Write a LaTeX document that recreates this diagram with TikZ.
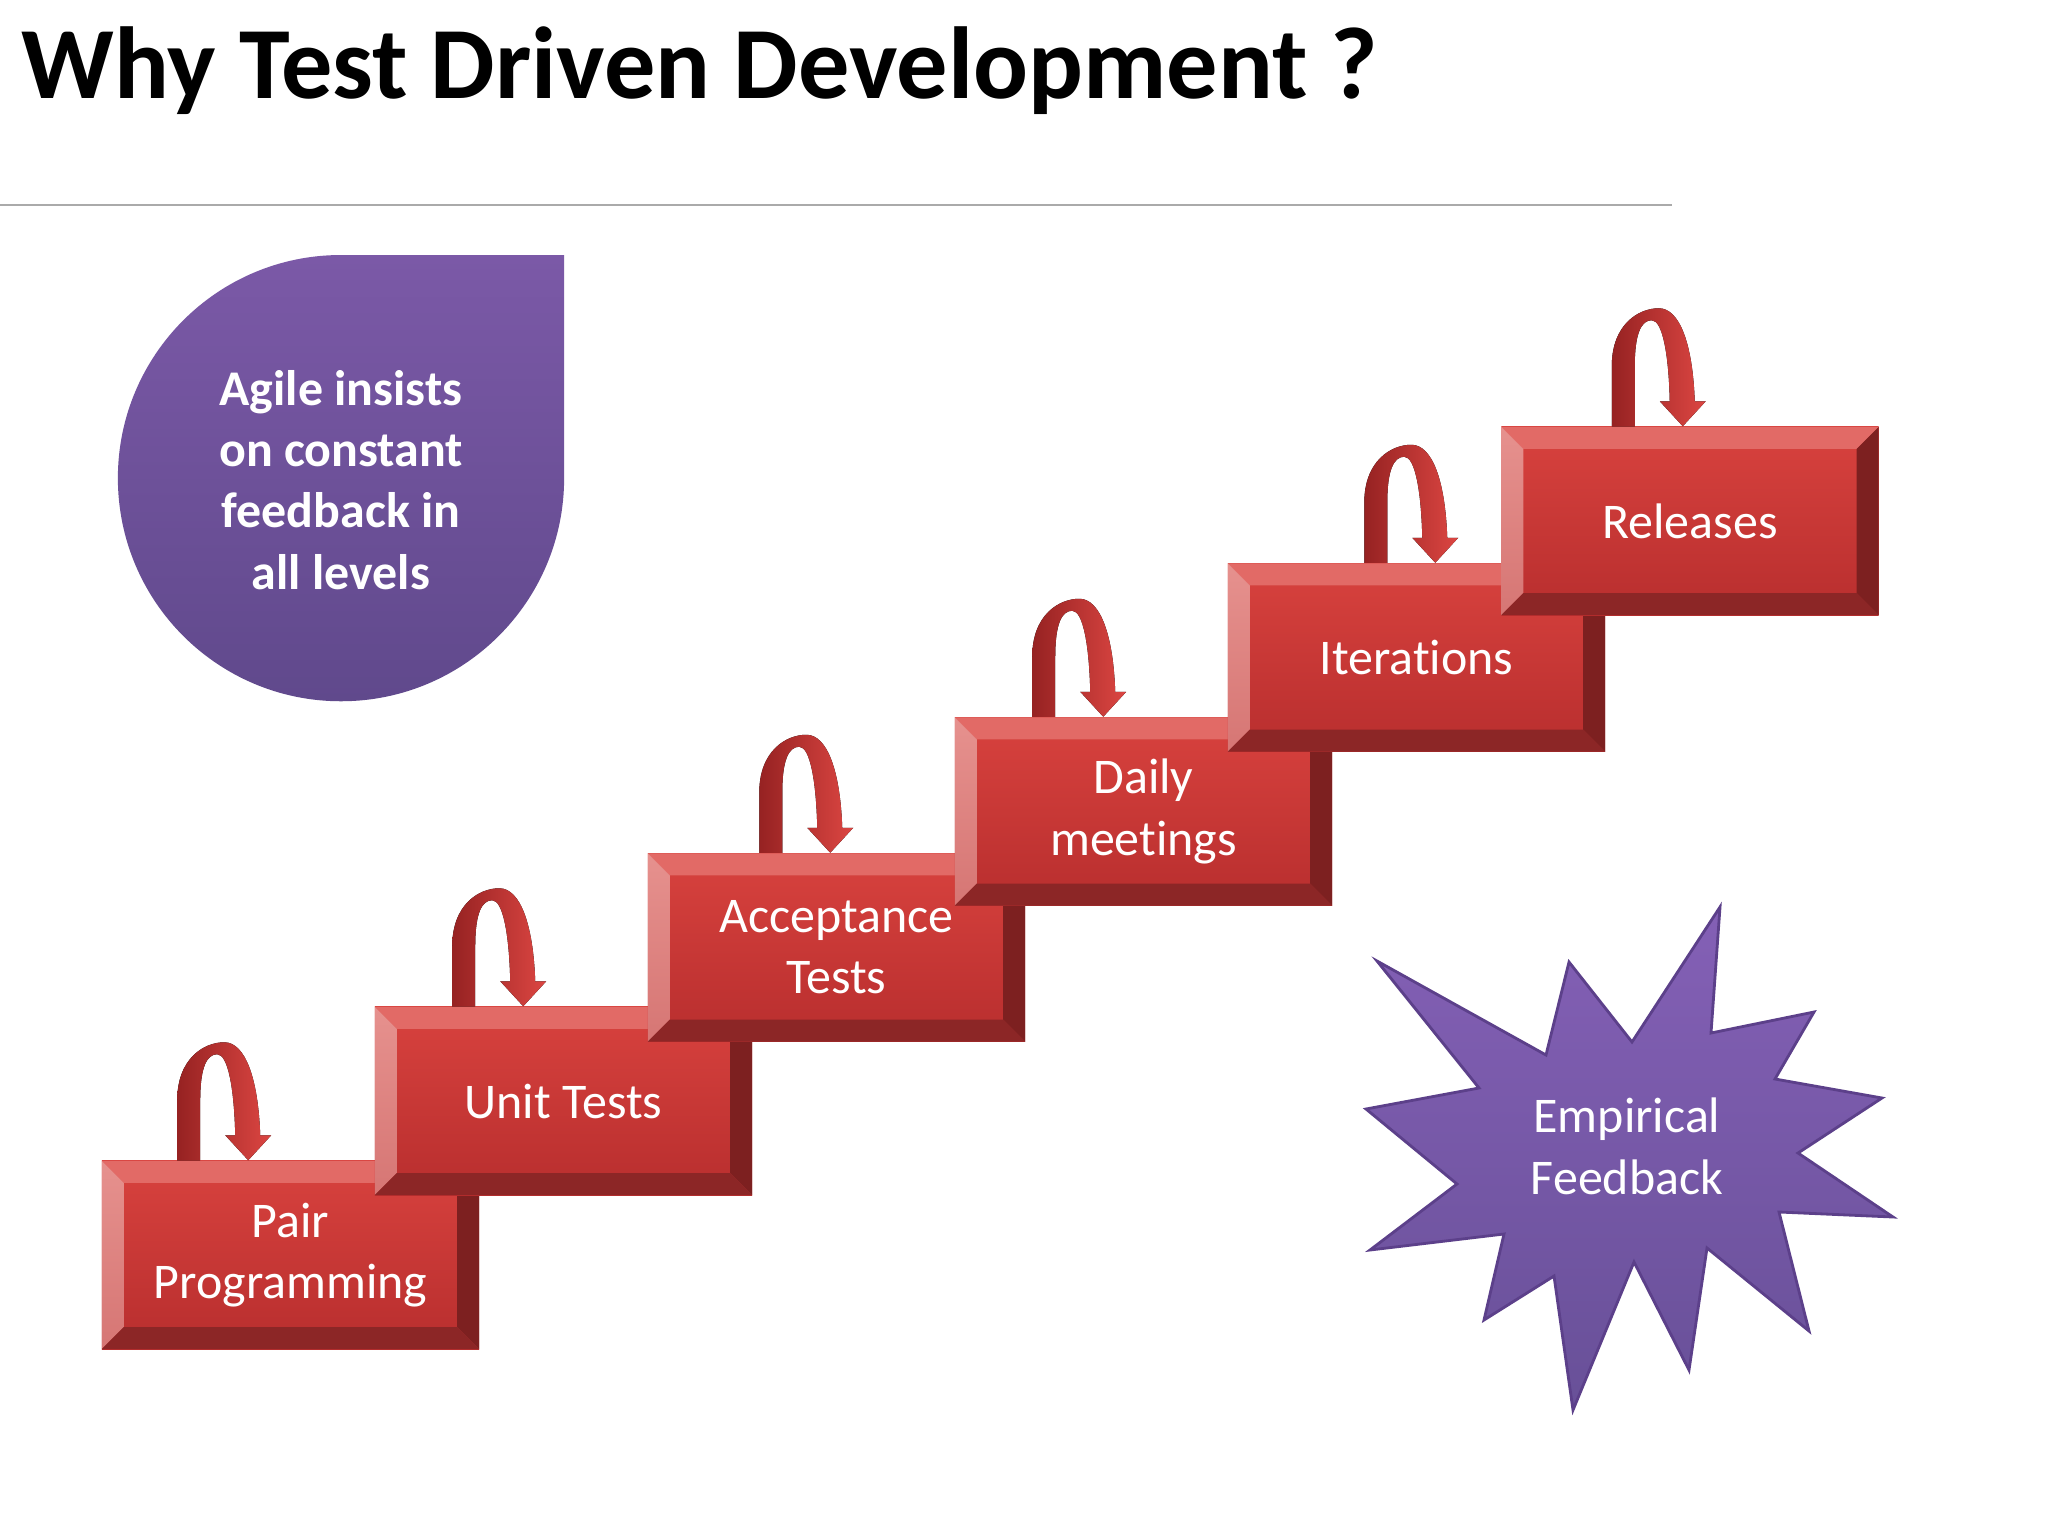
\documentclass[tikz,border=0pt]{standalone}
\usepackage{fontspec}
\setmainfont{Carlito}
\newfontfamily\carlito[Ligatures={NoCommon,NoContextual}]{Carlito}
\definecolor{facetop}{RGB}{216,66,62}
\definecolor{facebot}{RGB}{184,46,46}
\definecolor{bvtop}{RGB}{226,106,102}
\definecolor{bvlefttop}{RGB}{230,145,142}
\definecolor{bvleftbot}{RGB}{214,118,116}
\definecolor{bvright}{RGB}{125,32,32}
\definecolor{bvbot}{RGB}{140,38,38}
\definecolor{loopdark}{RGB}{150,34,34}
\definecolor{looplight}{RGB}{220,70,66}
\definecolor{dropTop}{RGB}{123,89,167}
\definecolor{dropBot}{RGB}{96,73,140}
\definecolor{starTop}{RGB}{132,96,182}
\definecolor{starBot}{RGB}{104,80,152}
\definecolor{starEdge}{RGB}{92,64,138}
\definecolor{rulegray}{RGB}{170,170,170}
\begin{document}
\begin{tikzpicture}[x=0.01cm,y=-0.01cm,
  redbox/.style={minimum width=3.77cm, minimum height=1.88cm, inner sep=0pt,
    align=center, text=white,
    font=\carlito\fontsize{14.2pt}{17.4pt}\selectfont,
    top color=facetop, bottom color=facebot,
    path picture={
      \fill[bvtop] (path picture bounding box.north west) -- (path picture bounding box.north east)
        -- ([shift={(-0.22cm,-0.22cm)}]path picture bounding box.north east)
        -- ([shift={(0.22cm,-0.22cm)}]path picture bounding box.north west) -- cycle;
      \shade[top color=bvlefttop, bottom color=bvleftbot] (path picture bounding box.north west)
        -- ([shift={(0.22cm,-0.22cm)}]path picture bounding box.north west)
        -- ([shift={(0.22cm,0.22cm)}]path picture bounding box.south west)
        -- (path picture bounding box.south west) -- cycle;
      \fill[bvright] (path picture bounding box.north east) -- (path picture bounding box.south east)
        -- ([shift={(-0.22cm,0.22cm)}]path picture bounding box.south east)
        -- ([shift={(-0.22cm,-0.22cm)}]path picture bounding box.north east) -- cycle;
      \fill[bvbot] (path picture bounding box.south west) -- (path picture bounding box.south east)
        -- ([shift={(-0.22cm,0.22cm)}]path picture bounding box.south east)
        -- ([shift={(0.22cm,0.22cm)}]path picture bounding box.south west) -- cycle;
    }},
  droptext/.style={align=center, text=white, inner sep=0pt,
    font=\carlito\bfseries\fontsize{14.2pt}{17.4pt}\selectfont},
  startext/.style={align=center, text=white, inner sep=0pt,
    font=\carlito\fontsize{14.2pt}{17.6pt}\selectfont},
  fbloop/.pic={
    \fill[left color=loopdark, right color=looplight]
      (0,0) -- (0,-60) .. controls (0,-102) and (27,-118) .. (47,-118)
      .. controls (68,-118) and (81,-82) .. (83,-25) -- (94,-25) -- (71,0) -- (48,-25) -- (58,-25)
      .. controls (57,-70) and (51,-106) .. (40,-106)
      .. controls (30,-106) and (23,-94) .. (23,-60) -- (23,0) -- cycle;
  }
]
\useasboundingbox (0,0) rectangle (2048,1536);
\fill[white] (0,0) rectangle (2048,1536);

% title and rule
\node[anchor=base west, inner sep=0pt, font=\carlito\bfseries\fontsize{29.1pt}{34pt}\selectfont] (title) at (21,98) {Why Test Driven Development ?};
\coordinate (ruleL) at (0,205);
\coordinate (ruleR) at (1672,205);
\draw[rulegray, line width=0.6pt] (ruleL) -- (ruleR);

% purple drop
\shade[top color=dropTop, bottom color=dropBot] (341,255) arc[start angle=90, end angle=360, radius=2.23cm] -- (564,255) -- cycle;
\node[droptext] (agile) at (341,480) {Agile insists\\on constant\\feedback in\\all levels};

% steps
\node[redbox] (b1) at (290.5,1255) {Pair\\Programming};
\node[redbox] (b2) at (563.5,1101) {Unit Tests};
\node[redbox] (b3) at (836.5,947.5) {Acceptance\\Tests};
\node[redbox] (b4) at (1143.5,811.5) {Daily\\meetings};
\node[redbox] (b5) at (1416.5,657.5) {Iterations};
\node[redbox] (b6) at (1690,521) {Releases};

% loops
\pic at ([xshift=0.76cm]b1.north west) {fbloop};
\pic at ([xshift=0.78cm]b2.north west) {fbloop};
\pic at ([xshift=1.12cm]b3.north west) {fbloop};
\pic at ([xshift=0.78cm]b4.north west) {fbloop};
\pic at ([xshift=1.37cm]b5.north west) {fbloop};
\pic at ([xshift=1.11cm]b6.north west) {fbloop};

% star
\shade[top color=starTop, bottom color=starBot, draw=starEdge, line width=0.8pt, line join=miter]
  (1377,961) -- (1546,1055) -- (1569,962) -- (1632,1042) -- (1720,907) -- (1711,1033)
  -- (1814,1012) -- (1775,1079) -- (1882,1098) -- (1798,1153) -- (1893,1217) -- (1779,1212)
  -- (1809,1331) -- (1707,1248) -- (1689,1370) -- (1634,1262) -- (1573,1410) -- (1554,1276)
  -- (1484,1320) -- (1504,1234) -- (1370,1250) -- (1457,1184) -- (1366,1109) -- (1479,1088) -- cycle;
\node[startext] (emp) at (1627,1146) {Empirical\\Feedback};
\end{tikzpicture}
\end{document}
